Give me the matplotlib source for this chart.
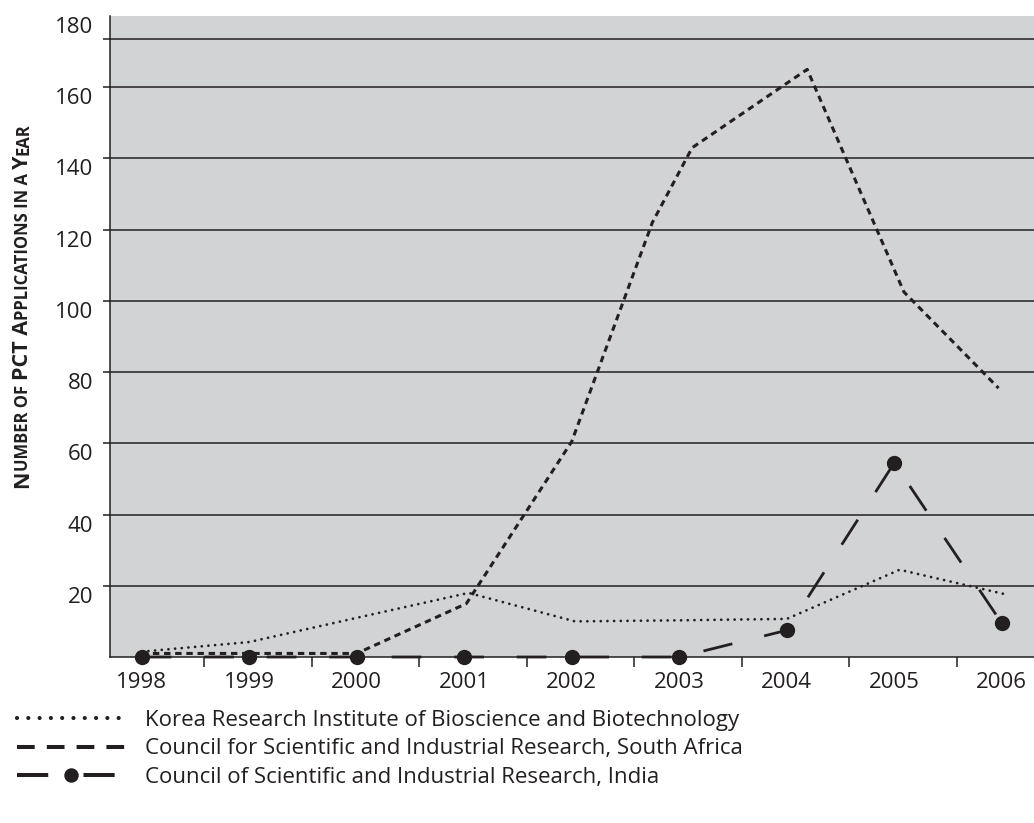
import matplotlib
matplotlib.use("Agg")
import matplotlib.pyplot as plt
from matplotlib.lines import Line2D
from matplotlib.transforms import ScaledTranslation

plt.rcParams['font.family'] = ['Open Sans', 'DejaVu Sans']

# values
korea_years = [1998, 1999, 2000, 2001.04, 2002.03, 2003, 2004, 2005.05, 2006.05]
korea_apps = [1.5, 4.2, 11, 18, 10, 10.3, 10.7, 24.5, 17.5]

sa_years = [1998, 1999, 2000, 2001.02, 2002, 2002.75, 2003.12, 2004.19, 2005.09, 2005.97]
sa_apps = [1, 1, 1, 15, 60.5, 122, 143, 165, 102.5, 75.5]

india_years = [1998, 1999, 2000, 2001, 2002, 2003, 2004, 2005, 2006]
india_apps = [0, 0, 0, 0, 0, 0, 7.5, 54.5, 9.5]

years = list(range(1998, 2007))
year_labels = [str(y) for y in years]
y_ticks = [20, 40, 60, 80, 100, 120, 140, 160, 180]
grid_levels = [20, 40, 60, 80, 100, 120, 140, 160, 173.5]

series_labels = ["Korea Research Institute of Bioscience and Biotechnology",
                 "Council for Scientific and Industrial Research, South Africa",
                 "Council of Scientific and Industrial Research, India"]

ink = '#231f20'

fig = plt.figure(figsize=(10.34, 8.23), dpi=100)
ax = fig.add_axes([0.1064, 0.2017, 0.8936, 0.7789])
ax.set_facecolor('#d1d3d4')
ax.set_xlim(1997.705, 2006.30)
ax.set_ylim(0, 180)

for g in grid_levels:
    ax.axhline(g, color=ink, lw=1.1, zorder=1)

ax.plot(korea_years, korea_apps, color=ink, lw=2.0, dashes=(0.01, 2.4),
        dash_capstyle='round', zorder=3)
ax.plot(sa_years, sa_apps, color=ink, lw=2.2, dashes=(2.1, 1.55), zorder=3)
ax.plot(india_years, india_apps, color=ink, lw=2.0, dashes=(10.7, 11.8),
        marker='o', markersize=10, clip_on=False, zorder=4)

for s in ['top', 'right']:
    ax.spines[s].set_visible(False)
for s in ['left', 'bottom']:
    ax.spines[s].set_color(ink)
    ax.spines[s].set_linewidth(1.1)

ax.set_xticks(years)
ax.set_xticklabels(year_labels)
ax.set_xticks([y + 0.58 for y in years[:-1]], minor=True)
ax.tick_params(axis='x', which='major', length=0, pad=10.5, labelsize=16, labelcolor=ink)
ax.tick_params(axis='x', which='minor', length=7, width=1.1, color=ink, direction='out')

ax.set_yticks(y_ticks)
ax.set_yticklabels([str(v) for v in y_ticks])
ax.set_yticks([173.5], minor=True)
ax.tick_params(axis='y', which='both', length=5, width=1.1, color=ink, direction='out',
               pad=7, labelsize=16, labelcolor=ink)
ax.yaxis.get_major_ticks()[-1].tick1line.set_visible(False)
shift = ScaledTranslation(0, -0.09, fig.dpi_scale_trans)
for lab in ax.get_yticklabels():
    lab.set_transform(lab.get_transform() + shift)

# small-caps y label, built from runs
runs = [("N", True), ("UMBER OF ", False), ("PCT A", True),
        ("PPLICATIONS IN A ", False), ("Y", True), ("EAR", False)]
renderer = fig.canvas.get_renderer()
texts = []
for s, big in runs:
    t = fig.text(0, 0, s, rotation=90, rotation_mode='anchor', ha='left', va='baseline',
                 fontsize=15.5 if big else 12, fontweight='bold', color=ink)
    texts.append(t)
lengths = [t.get_window_extent(renderer).height for t in texts]
total = sum(lengths)
pos = 823 - (306 + total / 2)
for t, L in zip(texts, lengths):
    t.set_position((28 / 1034, pos / 823))
    pos += L

handles = [
    Line2D([], [], color=ink, lw=3.0, dashes=(0.01, 2.7), dash_capstyle='round'),
    Line2D([], [], color=ink, lw=2.9, dashes=(4.4, 3.0)),
    Line2D([], [], color=ink, lw=2.9, dashes=(7.75, 8.75), marker='o', markersize=9.4),
]
fig.legend(handles, series_labels, loc='upper left', bbox_to_anchor=(17 / 1034, 1 - 710 / 823),
           frameon=False, fontsize=16, handlelength=4.86, handletextpad=0.9,
           labelspacing=0.33, borderpad=0, borderaxespad=0, numpoints=1,
           labelcolor=ink)

fig.savefig('out.png', dpi=100)
